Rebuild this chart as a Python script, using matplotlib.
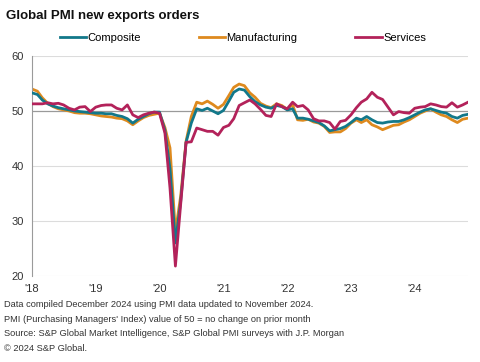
import pandas as pd
import matplotlib
matplotlib.use("Agg")
import matplotlib.pyplot as plt
import matplotlib.dates as mdates

plt.rcParams['font.family'] = ['Liberation Sans', 'DejaVu Sans']

# monthly readings, Jan 2018 - Nov 2024
dates = pd.date_range('2018-01-01', '2024-11-01', freq='MS')

composite = [
    53.3, 53.0, 52.0, 51.3, 50.9, 50.6, 50.4, 50.2, 50.0, 49.9, 49.8, 49.7,
    49.6, 49.6, 49.5, 49.5, 49.2, 49.0, 48.6, 47.8, 48.5, 49.0, 49.5, 49.8,
    49.8, 46.5, 39.5, 26.0, 33.5, 44.3, 47.8, 50.4, 50.1, 50.5, 50.0, 49.5,
    50.1, 51.8, 53.4, 54.0, 53.8, 52.6, 51.7, 51.1, 50.7, 50.5, 51.0, 50.8,
    50.2, 50.4, 48.7, 48.7, 48.5, 48.2, 47.9, 47.3, 46.4, 46.6, 46.8, 47.2,
    47.9, 48.7, 48.4, 49.0, 48.4, 47.9, 47.8, 48.0, 48.1, 48.1, 48.4, 48.8,
    49.3, 49.8, 50.2, 50.4, 50.1, 49.8, 49.6, 49.0, 48.7, 49.2, 49.4,
]
manufacturing = [
    54.0, 53.6, 52.4, 51.4, 50.8, 50.4, 50.2, 50.0, 49.7, 49.6, 49.6, 49.5,
    49.3, 49.1, 49.0, 48.9, 48.7, 48.6, 48.2, 47.5, 48.2, 48.8, 49.2, 49.4,
    49.6, 47.0, 43.3, 28.0, 34.5, 44.5, 49.0, 51.6, 51.3, 51.8, 51.2, 50.5,
    51.2, 52.8, 54.3, 54.9, 54.6, 53.3, 52.5, 51.4, 50.9, 50.6, 51.3, 51.0,
    50.3, 51.2, 48.4, 48.3, 48.5, 48.0, 47.8, 47.2, 46.1, 46.2, 46.2, 46.8,
    47.8, 48.4, 47.9, 48.4, 47.5, 47.1, 46.6, 47.0, 47.4, 47.5, 48.0, 48.4,
    49.0, 49.6, 50.0, 50.4, 49.8, 49.3, 49.0, 48.4, 47.9, 48.5, 48.7,
]
services = [
    51.3, 51.3, 51.3, 51.5, 51.3, 51.4, 51.1, 50.5, 50.2, 50.7, 50.8, 49.9,
    50.7, 51.0, 51.1, 51.1, 50.5, 50.2, 51.1, 49.3, 48.8, 49.3, 49.6, 49.8,
    49.6, 46.0, 36.0, 21.8, 33.0, 44.3, 44.4, 46.9, 46.6, 46.3, 46.3, 45.6,
    47.0, 47.4, 48.6, 51.0, 51.5, 52.0, 51.3, 50.3, 49.2, 49.0, 51.3, 50.8,
    50.4, 51.6, 50.8, 51.0, 50.2, 48.6, 48.2, 48.2, 47.9, 46.7, 48.1, 48.3,
    49.3, 50.6, 51.6, 52.2, 53.4, 52.5, 52.1, 50.7, 49.3, 49.9, 49.7, 49.6,
    50.5, 50.7, 50.8, 51.3, 51.1, 50.8, 50.7, 51.5, 50.7, 51.1, 51.6,
]

fig = plt.figure(figsize=(4.81, 3.62), dpi=100)
ax = fig.add_axes([0.0665, 0.2376, 0.9065, 0.6077])

for y in [20, 30, 40, 60]:
    ax.axhline(y, color='#dcdcdc', linewidth=0.8, zorder=1)
ax.axhline(50, color='#9a9a9a', linewidth=0.9, zorder=1)

ax.plot(dates, composite, color='#12788a', linewidth=2.0, label='Composite', zorder=3)
ax.plot(dates, manufacturing, color='#de8a1e', linewidth=2.0, label='Manufacturing', zorder=2)
ax.plot(dates, services, color='#b3225a', linewidth=2.0, label='Services', zorder=4)

ax.set_xlim(dates[0], dates[-1])
ax.set_ylim(20, 60)
ax.set_yticks([20, 30, 40, 50, 60])
ax.xaxis.set_major_locator(mdates.YearLocator())
ax.xaxis.set_major_formatter(mdates.DateFormatter("'%y"))
ax.tick_params(axis='both', length=0, labelsize=8, colors='#333333', pad=6)
ax.tick_params(axis='y', pad=6)

for s in ['top', 'right', 'bottom']:
    ax.spines[s].set_visible(False)
ax.spines['left'].set_color('#9a9a9a')
ax.spines['left'].set_linewidth(0.8)

fig.text(0.012, 0.955, 'Global PMI new exports orders', fontsize=9.5,
         fontweight='bold', color='#111111', va='center')
fig.legend(loc='center', bbox_to_anchor=(0.505, 0.895), ncol=3, frameon=False,
           fontsize=8, handlelength=2.4, handletextpad=0.1, columnspacing=5.2)

notes = [
    'Data compiled December 2024 using PMI data updated to November 2024.',
    "PMI (Purchasing Managers' Index) value of 50 = no change on prior month",
    'Source: S&P Global Market Intelligence, S&P Global PMI surveys with J.P. Morgan',
    '\u00a9 2024 S&P Global.',
]
for i, line in enumerate(notes):
    fig.text(0.008, 0.158 - i * 0.04, line, fontsize=6.7, color='#333333', va='center')

fig.savefig('out.png', dpi=100)
